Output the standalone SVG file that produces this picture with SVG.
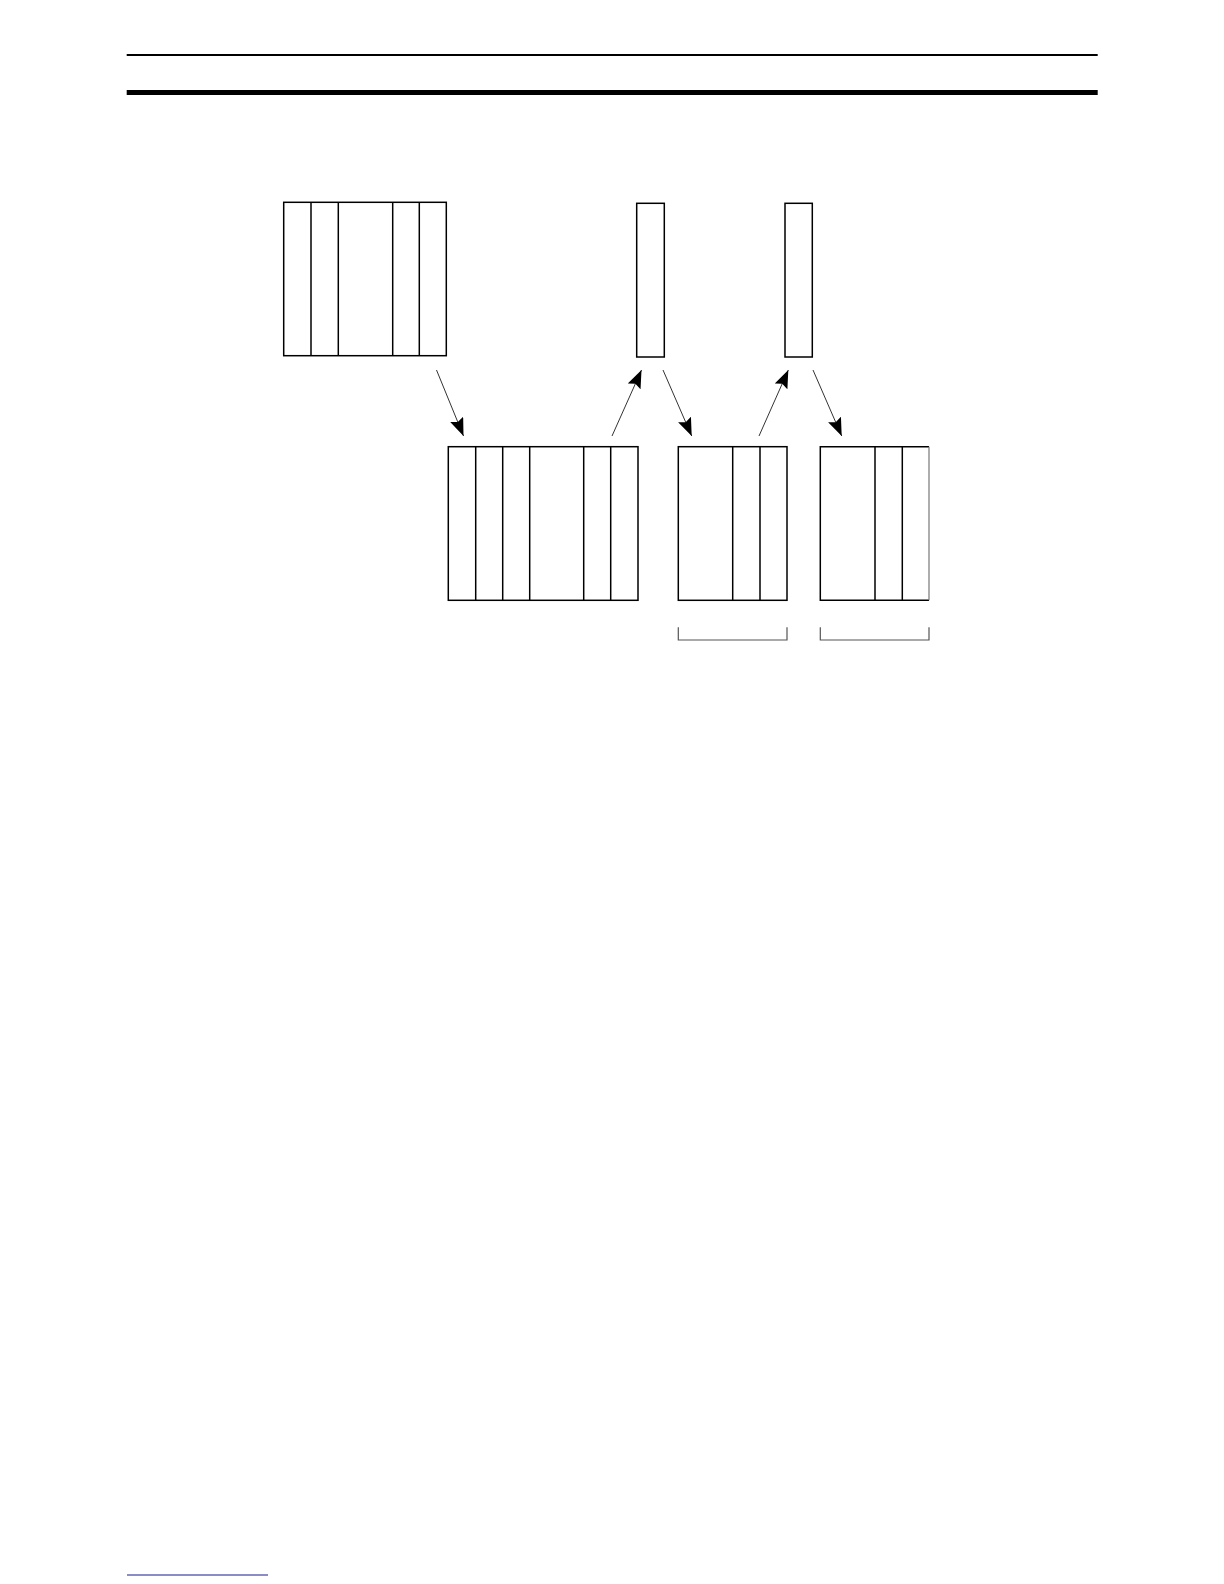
<svg xmlns="http://www.w3.org/2000/svg" width="1224" height="1584" viewBox="0 0 1224 1584">
<style>
.box{fill:#fff;stroke:#000;stroke-width:1.5}
.div{stroke:#000;stroke-width:1.5}
.conn{stroke:#333;stroke-width:1;fill:none}
.brk{stroke:#555;stroke-width:1.2;fill:none}
</style>
<defs>
<marker id="ah" markerUnits="userSpaceOnUse" markerWidth="20" markerHeight="14" refX="18" refY="7" orient="auto">
<path d="M0,0 L18,7 L0,14 L3,7 Z" fill="#000"/>
</marker>
</defs>
<rect width="1224" height="1584" fill="#fff"/>
<g id="header">
<line x1="126.7" y1="55" x2="1097.7" y2="55" stroke="#000" stroke-width="1.8"/>
<rect x="126.7" y="90" width="971" height="5" fill="#000"/>
</g>
<g id="footer">
<line x1="127" y1="1575" x2="268" y2="1575" stroke="#1a1a8c" stroke-width="1"/>
</g>
<g id="node-top-large">
<rect class="box" x="283.7" y="202.3" width="162.6" height="153.4"/>
<line class="div" x1="311" y1="202.3" x2="311" y2="355.7"/>
<line class="div" x1="338.3" y1="202.3" x2="338.3" y2="355.7"/>
<line class="div" x1="392.7" y1="202.3" x2="392.7" y2="355.7"/>
<line class="div" x1="419.3" y1="202.3" x2="419.3" y2="355.7"/>
</g>
<g id="node-top-small-1">
<rect class="box" x="636.7" y="203.3" width="27.6" height="153.7"/>
</g>
<g id="node-top-small-2">
<rect class="box" x="785" y="203.3" width="27.3" height="153.7"/>
</g>
<g id="node-bottom-large">
<rect class="box" x="448.3" y="446.7" width="189.7" height="153.6"/>
<line class="div" x1="475.7" y1="446.7" x2="475.7" y2="600.3"/>
<line class="div" x1="502.7" y1="446.7" x2="502.7" y2="600.3"/>
<line class="div" x1="529.7" y1="446.7" x2="529.7" y2="600.3"/>
<line class="div" x1="583.7" y1="446.7" x2="583.7" y2="600.3"/>
<line class="div" x1="610.7" y1="446.7" x2="610.7" y2="600.3"/>
</g>
<g id="node-bottom-mid">
<rect class="box" x="678.3" y="446.7" width="108.7" height="153.6"/>
<line class="div" x1="732.7" y1="446.7" x2="732.7" y2="600.3"/>
<line class="div" x1="760" y1="446.7" x2="760" y2="600.3"/>
<path class="brk" d="M678.3,627.3 V640 H787 V627.3"/>
</g>
<g id="node-bottom-right">
<path d="M929,446.7 H820.3 V600.3 H929" fill="#fff" stroke="#000" stroke-width="1.5"/>
<line x1="929" y1="446.7" x2="929" y2="600.3" stroke="#777" stroke-width="1.2"/>
<line class="div" x1="875" y1="446.7" x2="875" y2="600.3"/>
<line class="div" x1="902.3" y1="446.7" x2="902.3" y2="600.3"/>
<path class="brk" d="M820.3,627.3 V640 H929 V627.3"/>
</g>
<g id="connectors">
<line class="conn" x1="436.5" y1="370" x2="463.5" y2="436" marker-end="url(#ah)"/>
<line class="conn" x1="612" y1="436" x2="641.5" y2="370" marker-end="url(#ah)"/>
<line class="conn" x1="663" y1="370" x2="691.7" y2="436" marker-end="url(#ah)"/>
<line class="conn" x1="759" y1="436" x2="788.3" y2="370" marker-end="url(#ah)"/>
<line class="conn" x1="813" y1="370" x2="841.7" y2="436" marker-end="url(#ah)"/>
</g>
</svg>
